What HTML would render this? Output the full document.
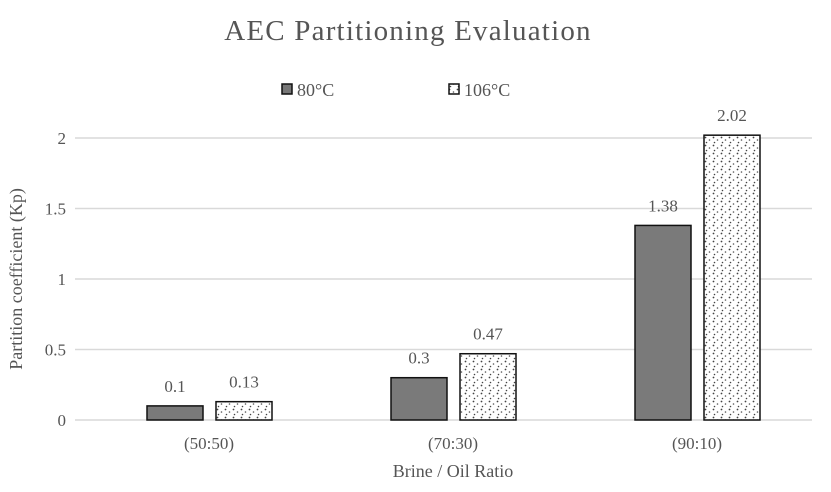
<!DOCTYPE html>
<html><head><meta charset="utf-8"><style>
body{margin:0;background:#fff}
svg text{font-family:"Liberation Serif",serif}
</style></head><body>
<svg width="831" height="487">
<defs>
<pattern id="dots" width="8" height="8" patternUnits="userSpaceOnUse">
<rect width="8" height="8" fill="#fff"/>
<circle cx="1.5" cy="1.5" r="0.9" fill="#444"/><circle cx="5.5" cy="4" r="0.8" fill="#555"/><circle cx="2.5" cy="6.5" r="0.8" fill="#444"/>
</pattern>
</defs>
<text x="408" y="40" text-anchor="middle" font-size="29" letter-spacing="1.2" fill="#555">AEC Partitioning  Evaluation</text>
<g>
<rect x="282" y="84" width="10" height="10" fill="#777" stroke="#111" stroke-width="1.5"/>
<text x="297" y="96" font-size="18" fill="#555">80°C</text>
<rect x="449" y="84" width="10" height="10" fill="url(#dots)" stroke="#111" stroke-width="1.5"/>
<text x="464" y="96" font-size="18" fill="#555">106°C</text>
</g>
<g id="grid"></g><g id="bars"></g><g id="labels"></g>
<text transform="translate(22,279) rotate(-90)" text-anchor="middle" font-size="18" fill="#555">Partition coefficient (Kp)</text>
<text x="453" y="477" text-anchor="middle" font-size="18" fill="#555">Brine / Oil Ratio</text>
</svg>
<script>
const categories=["(50:50)","(70:30)","(90:10)"];
const s80=[0.1,0.3,1.38];
const s106=[0.13,0.47,2.02];
const labels80=["0.1","0.3","1.38"];
const labels106=["0.13","0.47","2.02"];
const yTicks=[0,0.5,1,1.5,2];
const yTickLabels=["0","0.5","1","1.5","2"];
const NS="http://www.w3.org/2000/svg";
const y0=420,yScale=(420-138)/2;
const Y=v=>y0-v*yScale;
const X=i=>209+i*244;
function mk(t,a,p){const e=document.createElementNS(NS,t);for(const k in a)e.setAttribute(k,a[k]);p.appendChild(e);return e;}
const g=document.getElementById('grid'),b=document.getElementById('bars'),l=document.getElementById('labels');
yTicks.forEach((v,i)=>{
 const ln=mk('line',{x1:75,x2:812,y1:Y(v),y2:Y(v),stroke:'#d9d9d9','stroke-width':1.5},g);
 
 
 const t=mk('text',{x:66,y:Y(v)+6,'text-anchor':'end','font-size':17,fill:'#555'},g);t.textContent=yTickLabels[i];
 
 
});
categories.forEach((c,i)=>{
 const cx=X(i);
 const r1=mk('rect',{x:cx-62,y:Y(s80[i]),width:56,height:Y(0)-Y(s80[i]),fill:'#7a7a7a',stroke:'#111','stroke-width':1.5},b);
 
 
 const r2=mk('rect',{x:cx+7,y:Y(s106[i]),width:56,height:Y(0)-Y(s106[i]),fill:'url(#dots)',stroke:'#111','stroke-width':1.5},b);
 
 
 const t1=mk('text',{x:cx-34,y:Y(s80[i])-14,'text-anchor':'middle','font-size':17,fill:'#555'},l);t1.textContent=labels80[i];
 
 
 const t2=mk('text',{x:cx+35,y:Y(s106[i])-14,'text-anchor':'middle','font-size':17,fill:'#555'},l);t2.textContent=labels106[i];
 
 
 const t3=mk('text',{x:cx,y:449,'text-anchor':'middle','font-size':17,fill:'#555'},l);t3.textContent=c;
 
 
});
</script>
</body></html>
